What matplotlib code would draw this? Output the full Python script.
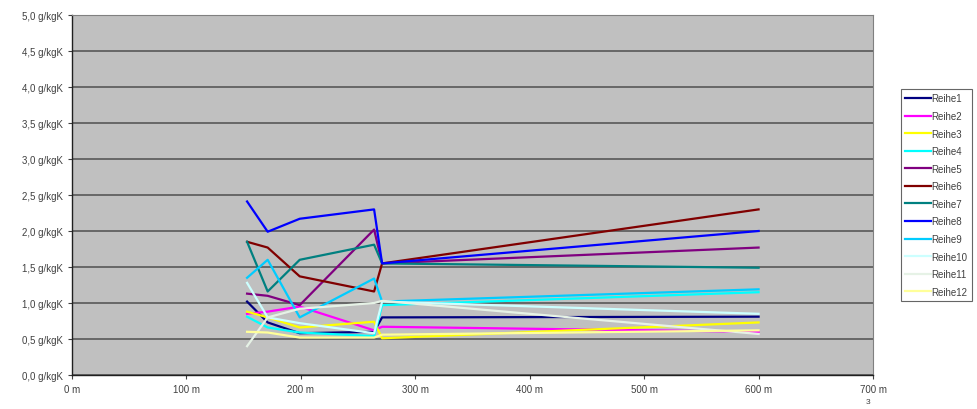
import numpy as np
import matplotlib
matplotlib.use('Agg')
import matplotlib.pyplot as plt
from matplotlib.ticker import FuncFormatter, MultipleLocator

plt.rcParams['font.family'] = ['Liberation Sans', 'DejaVu Sans']

# distances (m) of the measuring points
dist = [153, 171, 199, 264, 271, 600]

reihe1 = [1.02, 0.73, 0.58, 0.60, 0.80, 0.81]
reihe2 = [0.85, 0.88, 0.95, 0.62, 0.67, 0.60]
reihe3 = [0.88, 0.80, 0.66, 0.74, 0.51, 0.73]
reihe4 = [0.81, 0.66, 0.59, 0.54, 0.97, 1.15]
reihe5 = [1.13, 1.10, 0.97, 2.02, 1.55, 1.77]
reihe6 = [1.85, 1.77, 1.37, 1.16, 1.55, 2.30]
reihe7 = [1.85, 1.16, 1.60, 1.81, 1.55, 1.49]
reihe8 = [2.41, 1.99, 2.17, 2.30, 1.55, 2.00]
reihe9 = [1.35, 1.60, 0.80, 1.34, 1.02, 1.19]
reihe10 = [1.28, 0.80, 0.72, 0.58, 1.02, 0.85]
reihe11 = [0.40, 0.80, 0.92, 1.00, 1.03, 0.57]
reihe12 = [0.60, 0.59, 0.52, 0.52, 0.56, 0.62]

series = [reihe1, reihe2, reihe3, reihe4, reihe5, reihe6,
          reihe7, reihe8, reihe9, reihe10, reihe11, reihe12]
names = ['Reihe%d' % (i + 1) for i in range(12)]
colors = ['#000080', '#FF00FF', '#FFFF00', '#00FFFF', '#800080', '#800000',
          '#008080', '#0000FF', '#00CCFF', '#CCFFFF', '#E6F2E6', '#FFFF99']

fig = plt.figure(figsize=(9.78, 4.10), dpi=100)
ax = fig.add_axes([72/978, 34/410, 801/978, 360/410])
ax.set_facecolor('#C0C0C0')

for vals, name, col in zip(series, names, colors):
    ax.plot(dist, vals, color=col, lw=1.6, label=name)

ax.set_xlim(0, 700)
ax.set_ylim(0, 5)
ax.xaxis.set_major_locator(MultipleLocator(100))
ax.yaxis.set_major_locator(MultipleLocator(0.5))
ax.xaxis.set_major_formatter(FuncFormatter(lambda v, p: '%d m' % v))
ax.yaxis.set_major_formatter(FuncFormatter(lambda v, p: ('%.1f g/kgK' % v).replace('.', ',')))
ax.grid(axis='y', color='#585858', lw=1.2)
ax.set_axisbelow(True)
ax.tick_params(labelsize=7, colors='#404040', length=3, width=0.8)
for s in ['top', 'right']:
    ax.spines[s].set_color('#808080')
for s in ['left', 'bottom']:
    ax.spines[s].set_color('#202020')
    ax.spines[s].set_linewidth(1.0)

leg = fig.legend(loc='upper left', bbox_to_anchor=(901/978, 1 - 90/410),
                 fontsize=7, frameon=True, fancybox=False, handlelength=2.6,
                 handletextpad=0.1, labelspacing=0.78, borderpad=0.45,
                 borderaxespad=0)
leg.get_frame().set_edgecolor('#404040')
leg.get_frame().set_linewidth(0.8)
for t in leg.get_texts():
    t.set_color('#404040')

fig.text(868/978, 1 - 404/410, '3', fontsize=6, color='#404040', ha='center')

fig.savefig('out.png', dpi=100)
